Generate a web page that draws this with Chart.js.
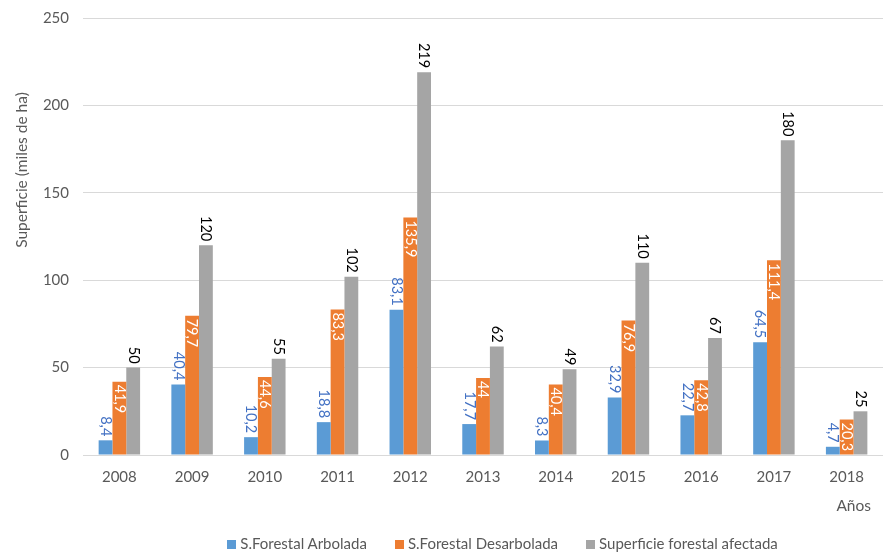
<!DOCTYPE html>
<html>
<head>
<meta charset="utf-8">
<script src="https://cdn.jsdelivr.net/npm/chart.js@4.4.1/dist/chart.umd.min.js"></script>
<style>
  html, body { margin: 0; padding: 0; background: #fff; }
  #wrap { position: relative; width: 883px; height: 553px; }
  #legend {
    position: absolute; left: 0; top: 533px; width: 883px; box-sizing: border-box;
    padding-left: 122px; text-align: center;
    font: 15px Lato, "Open Sans", sans-serif; line-height: 20px; color: #595959;
    white-space: nowrap;
  }
  #legend span.item { display: inline-block; margin: 0 14px; }
  #legend span.box { display: inline-block; width: 9px; height: 9px; margin-right: 4px; }
</style>
</head>
<body>
<div id="wrap"><canvas id="chart"></canvas><div id="legend"></div></div>
<script>
var years = ['2008', '2009', '2010', '2011', '2012', '2013', '2014', '2015', '2016', '2017', '2018'];
var arbolada = [8.4, 40.4, 10.2, 18.8, 83.1, 17.7, 8.3, 32.9, 22.7, 64.5, 4.7];
var desarbolada = [41.9, 79.7, 44.6, 83.3, 135.9, 44, 40.4, 76.9, 42.8, 111.4, 20.3];
var afectada = [50, 120, 55, 102, 219, 62, 49, 110, 67, 180, 25];
var yTicks = [0, 50, 100, 150, 200, 250];

var fontName = 'Lato, "Open Sans", sans-serif';
var greyText = '#595959';

function fmt(v) {
  return String(v).replace('.', ',');
}

// labels rotated 90deg, like the excel ones
var barLabels = {
  id: 'barLabels',
  afterDatasetsDraw: function(chart) {
    var ctx = chart.ctx;
    ctx.save();
    ctx.font = '14.5px ' + fontName;
    ctx.textBaseline = 'middle';
    chart.data.datasets.forEach(function(ds, i) {
      var meta = chart.getDatasetMeta(i);
      meta.data.forEach(function(bar, j) {
        var inside = ds.labelInside;
        ctx.save();
        ctx.translate(bar.x, inside ? bar.y + 3 : bar.y - 4);
        ctx.rotate(Math.PI / 2);
        ctx.textAlign = inside ? 'left' : 'right';
        ctx.fillStyle = ds.labelColor;
        ctx.fillText(fmt(ds.data[j]), 0, 0);
        ctx.restore();
      });
    });
    ctx.restore();
  }
};

// axis titles sit where excel put them, not centred
var axisTitles = {
  id: 'axisTitles',
  afterDraw: function(chart) {
    var ctx = chart.ctx;
    ctx.save();
    ctx.font = '15.5px ' + fontName;
    ctx.fillStyle = greyText;
    ctx.textBaseline = 'middle';
    ctx.textAlign = 'right';
    ctx.fillText('Años', 871, 506);
    ctx.textAlign = 'center';
    ctx.translate(22, 170);
    ctx.rotate(-Math.PI / 2);
    ctx.fillText('Superficie (miles de ha)', 0, 0);
    ctx.restore();
  }
};

var ctx = document.getElementById('chart').getContext('2d');
var chart = new Chart(ctx, {
  type: 'bar',
  data: {
    labels: years,
    datasets: [
      {
        label: 'S.Forestal Arbolada',
        data: arbolada,
        backgroundColor: '#5B9BD5',
        labelColor: '#4472C4',
        labelInside: false
      },
      {
        label: 'S.Forestal Desarbolada',
        data: desarbolada,
        backgroundColor: '#ED7D31',
        labelColor: '#ffffff',
        labelInside: true
      },
      {
        label: 'Superficie forestal afectada',
        data: afectada,
        backgroundColor: '#A5A5A5',
        labelColor: '#000000',
        labelInside: false
      }
    ]
  },
  options: {
    responsive: true,
    maintainAspectRatio: false,
    animation: false,
    layout: { padding: { top: 18, right: -8, left: 0, bottom: 28 } },
    datasets: {
      bar: { categoryPercentage: 0.57, barPercentage: 1 }
    },
    scales: {
      x: {
        grid: { display: false, drawTicks: false },
        border: { color: '#d9d9d9' },
        ticks: {
          color: greyText,
          font: { family: fontName, size: 15 },
          padding: 13,
          maxRotation: 0
        },
        afterFit: function(scale) {
          scale.height = 70;
          scale.paddingLeft = 0;
          scale.paddingRight = 0;
        }
      },
      y: {
        min: 0,
        max: 250,
        afterBuildTicks: function(scale) {
          scale.ticks = yTicks.map(function(v) { return { value: v }; });
        },
        grid: { color: '#d9d9d9', drawTicks: false },
        border: { display: false },
        ticks: {
          color: greyText,
          font: { family: fontName, size: 15 },
          padding: 14
        },
        afterFit: function(scale) {
          scale.width = 83;
          scale.paddingTop = 0;
          scale.paddingBottom = 0;
        }
      }
    },
    plugins: {
      legend: { display: false },
      tooltip: { enabled: false }
    }
  },
  plugins: [barLabels, axisTitles]
});

// html legend, spaced like the original
var legendEl = document.getElementById('legend');
chart.data.datasets.forEach(function(ds) {
  legendEl.insertAdjacentHTML('beforeend', [
    '<span class="item"><span class="box" style="background:',
    ds.backgroundColor,
    '"></span>',
    ds.label,
    '</span>'
  ].join(''));
});
</script>
</body>
</html>
